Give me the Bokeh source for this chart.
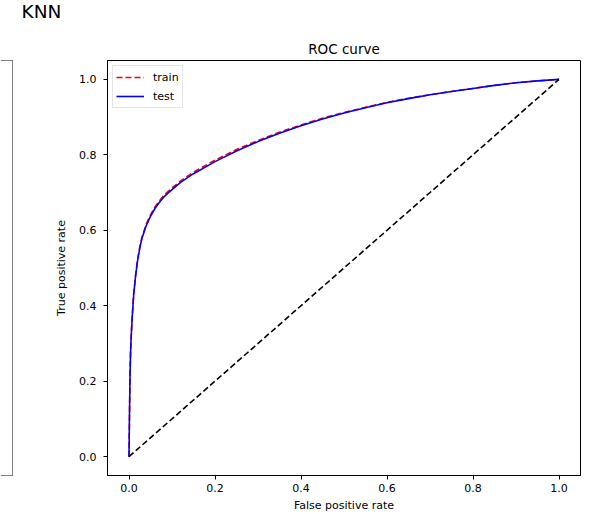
from bokeh.plotting import figure
from bokeh.models import Range1d, FixedTicker, PrintfTickFormatter, Span, Legend, LegendItem
from bokeh.layouts import row, column
from bokeh.embed import file_html
from bokeh.resources import INLINE

FONT = "DejaVu Sans"

suptitle = "KNN"
plot_title = "ROC curve"
x_label = "False positive rate"
y_label = "True positive rate"
tick_values = [0.0, 0.2, 0.4, 0.6, 0.8, 1.0]

test_fpr = [0.0, 0.0005, 0.001, 0.0016, 0.0025, 0.0035, 0.005, 0.0075, 0.011, 0.015,
            0.020, 0.025, 0.030, 0.040, 0.050, 0.060, 0.070, 0.080, 0.090, 0.100,
            0.120, 0.150, 0.200, 0.250, 0.300, 0.350, 0.400, 0.450, 0.500, 0.550,
            0.600, 0.650, 0.700, 0.750, 0.800, 0.850, 0.900, 0.950, 1.0]
test_tpr = [0.0, 0.05, 0.10, 0.15, 0.22, 0.27, 0.315, 0.37, 0.43, 0.475,
            0.520, 0.552, 0.578, 0.612, 0.637, 0.657, 0.673, 0.687, 0.698, 0.708,
            0.727, 0.750, 0.782, 0.810, 0.835, 0.857, 0.877, 0.895, 0.911, 0.925,
            0.938, 0.949, 0.959, 0.968, 0.976, 0.984, 0.991, 0.996, 1.0]
train_fpr = list(test_fpr)
train_tpr = [0.0, 0.05, 0.10, 0.15, 0.221, 0.271, 0.317, 0.372, 0.433, 0.478,
             0.523, 0.555, 0.581, 0.616, 0.641, 0.661, 0.677, 0.691, 0.702, 0.712,
             0.731, 0.754, 0.786, 0.814, 0.838, 0.860, 0.879, 0.897, 0.912, 0.926,
             0.939, 0.950, 0.959, 0.968, 0.976, 0.984, 0.991, 0.996, 1.0]
diag_x = [0.0, 1.0]
diag_y = [0.0, 1.0]

HEAD = 28
H = 514 - HEAD
TOP = 60 - HEAD
BOTTOM = 39

# heading strip (figure-level title)
head = figure(width=590, height=HEAD, output_backend="svg", toolbar_location=None,
              title=suptitle, min_border_left=0, min_border_right=0,
              min_border_top=0, min_border_bottom=0)
head.axis.visible = False
head.grid.visible = False
head.outline_line_color = None
head.title.align = "left"
head.title.vertical_align = "top"
head.title.offset = 21
head.title.standoff = 0
head.title.text_font = FONT
head.title.text_font_size = "18.5px"
head.title.text_font_style = "normal"
head.title.text_color = "black"

# fragment of the neighbouring (left) axes
left = figure(width=13, height=H, output_backend="svg", toolbar_location=None,
              x_range=Range1d(-12.5, 0.5), y_range=Range1d(0, 1),
              min_border_left=0, min_border_right=0, min_border_top=TOP, min_border_bottom=BOTTOM)
left.axis.visible = False
left.grid.visible = False
left.outline_line_color = None
left.add_layout(Span(location=0, dimension="height", line_color="black", line_width=1))
for loc in [0, 1]:
    left.add_layout(Span(location=loc, dimension="width", line_color="black", line_width=1))

p = figure(width=577, height=H, output_backend="svg", toolbar_location=None,
           x_range=Range1d(-0.05, 1.05), y_range=Range1d(-0.05, 1.05),
           min_border_left=94, min_border_right=10, min_border_top=TOP, min_border_bottom=BOTTOM)
p.title.text = plot_title
p.title.align = "center"
p.title.text_font = FONT
p.title.text_font_size = "13.5px"
p.title.text_font_style = "normal"
p.title.text_color = "black"
p.title.standoff = 7

p.grid.visible = False
p.outline_line_color = "black"
p.outline_line_width = 1
for ax in (p.xaxis, p.yaxis):
    ax.ticker = FixedTicker(ticks=tick_values)
    ax.formatter = PrintfTickFormatter(format="%.1f")
    ax.minor_tick_line_color = None
    ax.major_tick_in = 0
    ax.major_tick_out = 4
    ax.major_tick_line_color = "black"
    ax.axis_line_color = "black"
    ax.major_label_text_font = FONT
    ax.major_label_text_font_size = "11px"
    ax.major_label_text_color = "black"
    ax.axis_label_text_font = FONT
    ax.axis_label_text_font_size = "11px"
    ax.axis_label_text_font_style = "normal"
    ax.axis_label_text_color = "black"
p.xaxis.axis_label = x_label
p.yaxis.axis_label = y_label
p.xaxis.major_label_standoff = 4
p.xaxis.axis_label_standoff = 4
p.yaxis.major_label_standoff = 7
p.yaxis.axis_label_standoff = 8

r_train = p.line(train_fpr, train_tpr, line_color="red", line_width=1.6, line_dash="6 3")
r_test = p.line(test_fpr, test_tpr, line_color="blue", line_width=1.6)
p.line(diag_x, diag_y, line_color="black", line_width=1.6, line_dash="6 3")

legend = Legend(items=[LegendItem(label="train", renderers=[r_train]),
                       LegendItem(label="test", renderers=[r_test])],
                location="top_left", margin=5, padding=3, spacing=3,
                label_height=16, glyph_height=16, glyph_width=28, label_standoff=9,
                label_text_font=FONT, label_text_font_size="11px", label_text_color="black",
                border_line_color="#cccccc", border_line_width=1,
                background_fill_alpha=0.8)
p.add_layout(legend)

layout = column(head, row(left, p))
open("out.html", "w").write(file_html(layout, INLINE))
